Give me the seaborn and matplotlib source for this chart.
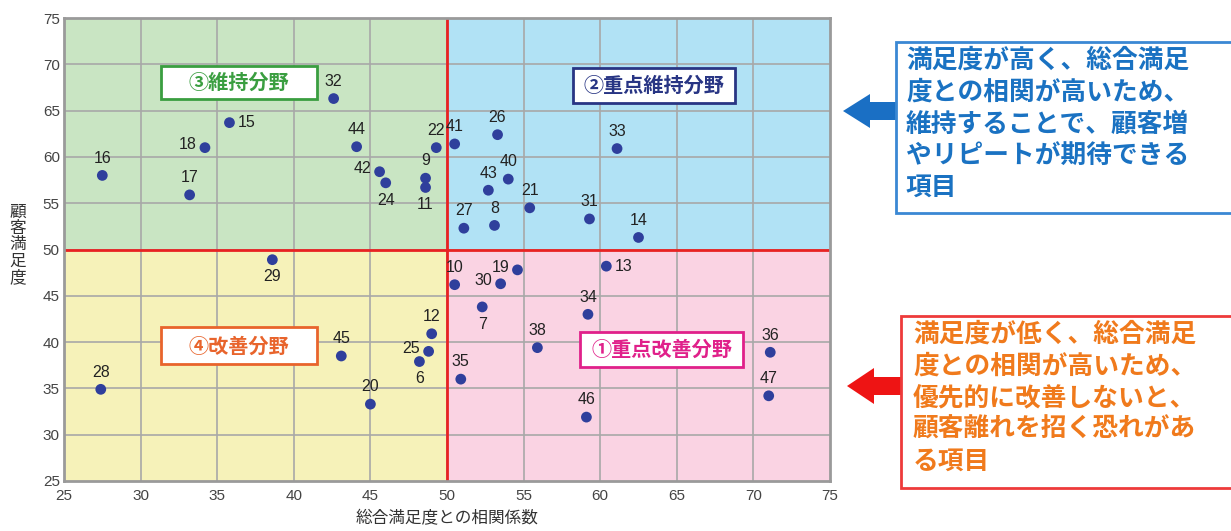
import matplotlib
matplotlib.use("Agg")
import matplotlib.pyplot as plt
import seaborn as sns
import pandas as pd
from matplotlib.patches import Rectangle, Polygon

# item numbers, correlation with overall satisfaction (x) and satisfaction (y)
ITEMS = [16, 28, 18, 15, 17, 32, 29, 44, 42, 24, 22, 9, 11, 41, 26, 33, 43, 40,
         21, 27, 8, 31, 14, 10, 30, 19, 13, 7, 34, 38, 36, 35, 47, 46, 12, 25,
         6, 45, 20]
CORR = [27.5, 27.4, 34.2, 35.8, 33.2, 42.6, 38.6, 44.1, 45.6, 46.0, 49.3, 48.6,
        48.6, 50.5, 53.3, 61.1, 52.7, 54.0, 55.4, 51.1, 53.1, 59.3, 62.5, 50.5,
        53.5, 54.6, 60.4, 52.3, 59.2, 55.9, 71.1, 50.9, 71.0, 59.1, 49.0, 48.8,
        48.2, 43.1, 45.0]
SATIS = [58.0, 34.9, 61.0, 63.7, 55.9, 66.3, 48.9, 61.1, 58.4, 57.2, 61.0, 57.7,
         56.7, 61.4, 62.4, 60.9, 56.4, 57.6, 54.5, 52.3, 52.6, 53.3, 51.3, 46.2,
         46.3, 47.8, 48.2, 43.8, 43.0, 39.4, 38.9, 36.0, 34.2, 31.9, 40.9, 39.0,
         37.9, 38.5, 33.3]
# where the number sits relative to its dot
LABEL_POS = {18: "left", 15: "right", 29: "below", 42: "left", 24: "below",
             11: "below", 30: "left", 19: "left", 13: "right", 7: "below",
             25: "left", 6: "below"}

TICKS = list(range(25, 80, 5))
MID = 50

QUADRANTS = [
    # label, text/border colour, box x0, x1, y0, y1
    ("③維持分野", "#3a9e40", 31.3, 41.5, 66.3, 69.8),
    ("②重点維持分野", "#283584", 58.2, 68.8, 65.8, 69.6),
    ("④改善分野", "#e8642c", 31.3, 41.5, 37.6, 41.6),
    ("①重点改善分野", "#e0208a", 58.7, 69.3, 37.3, 41.1),
]

NOTE_HIGH = "満足度が高く、総合満足\n度との相関が高いため、\n維持することで、顧客増\nやリピートが期待できる\n項目"
NOTE_LOW = "満足度が低く、総合満足\n度との相関が高いため、\n優先的に改善しないと、\n顧客離れを招く恐れがあ\nる項目"

W, H = 1231, 531

sns.set_theme(style="white")
plt.rcParams["font.family"] = ["Noto Sans CJK JP", "DejaVu Sans"]

df = pd.DataFrame({"item": ITEMS, "corr": CORR, "satis": SATIS})

fig = plt.figure(figsize=(W / 100, H / 100), dpi=100)
ax = fig.add_axes([64 / W, 1 - 481 / H, (830 - 64) / W, (481 - 18) / H])

lo, hi = TICKS[0], TICKS[-1]
bg = [("#c9e5c3", lo, MID, MID, hi), ("#b1e2f5", MID, hi, MID, hi),
      ("#f6f2b9", lo, MID, lo, MID), ("#fad3e3", MID, hi, lo, MID)]
for col, x0, x1, y0, y1 in bg:
    ax.add_patch(Rectangle((x0, y0), x1 - x0, y1 - y0, fc=col, ec="none", zorder=0))

for t in TICKS[1:-1]:
    ax.axvline(t, color="#a8a8a8", lw=1.2, zorder=1)
    ax.axhline(t, color="#a8a8a8", lw=1.2, zorder=1)
ax.axvline(MID, color="#e82222", lw=2, zorder=2)
ax.axhline(MID, color="#e82222", lw=2, zorder=2)

sns.scatterplot(data=df, x="corr", y="satis", ax=ax, s=60, color="#2f3f9c",
                edgecolor="none", zorder=4, legend=False)

offsets = {"above": (0, 7, "center", "bottom"), "below": (0, -7, "center", "top"),
           "left": (-6, 2, "right", "center"), "right": (6, 0, "left", "center")}
for it, x, y in zip(ITEMS, CORR, SATIS):
    dx, dy, ha, va = offsets[LABEL_POS.get(it, "above")]
    ax.annotate(str(it), (x, y), xytext=(dx, dy), textcoords="offset points",
                ha=ha, va=va, fontsize=11.5, color="#222222",
                family=["Liberation Sans", "DejaVu Sans"], zorder=5)

for label, col, x0, x1, y0, y1 in QUADRANTS:
    ax.add_patch(Rectangle((x0, y0), x1 - x0, y1 - y0, fc="white", ec=col,
                           lw=2, zorder=6))
    ax.text((x0 + x1) / 2, (y0 + y1) / 2, label, color=col, fontsize=14.5,
            fontweight="bold", ha="center", va="center", zorder=7)

ax.set_xlim(lo, hi)
ax.set_ylim(lo, hi)
ax.set_xticks(TICKS)
ax.set_yticks(TICKS)
ax.tick_params(length=0, labelsize=11, colors="#444444")
ax.tick_params(axis="x", pad=6)
ax.tick_params(axis="y", pad=3)
for lab in ax.get_xticklabels() + ax.get_yticklabels():
    lab.set_family(["Liberation Sans", "DejaVu Sans"])
for sp in ax.spines.values():
    sp.set_color("#9a9a9a")
    sp.set_linewidth(2)
ax.set_xlabel("")
ax.set_ylabel("")

fig.text(447 / W, 1 - 519 / H, "総合満足度との相関係数", ha="center", va="center",
         fontsize=12, color="#333333")
fig.text(18 / W, 1 - 245 / H, "\n".join("顧客満足度"), ha="center", va="center",
         fontsize=12, color="#333333", linespacing=0.95)


def px(x, y):
    return (x / W, 1 - y / H)


def arrow(tip_x, base_x, end_x, cy, head, shaft, col):
    pts = [(tip_x, cy), (base_x, cy - head), (base_x, cy - shaft), (end_x, cy - shaft),
           (end_x, cy + shaft), (base_x, cy + shaft), (base_x, cy + head)]
    fig.add_artist(Polygon([px(*p) for p in pts], closed=True, fc=col, ec="none",
                           transform=fig.transFigure))


def note(x0, y0, x1, y1, text, tcol, ecol, tx, ty):
    fig.add_artist(Rectangle(px(x0, y1), (x1 - x0) / W, (y1 - y0) / H, fc="white",
                             ec=ecol, lw=2, transform=fig.transFigure))
    fig.text(*px(tx, ty), text, color=tcol, fontsize=18.5, fontweight="bold",
             ha="left", va="top", linespacing=1.22)


arrow(843, 870, 897, 111, 17, 9, "#1a6fc4")
note(896, 42, 1240, 213, NOTE_HIGH, "#1a72c2", "#3a88d4", 906, 47)
arrow(847, 874, 901, 386, 18, 9, "#ee1414")
note(901, 316, 1240, 488, NOTE_LOW, "#f07a1c", "#ee3a3a", 913, 321)

fig.savefig("out.png", dpi=100)
